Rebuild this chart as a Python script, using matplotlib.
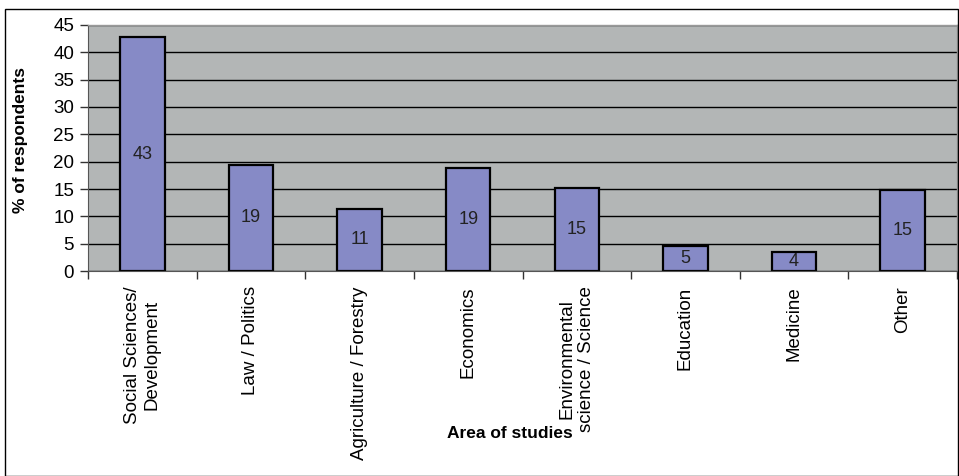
import numpy as np
import matplotlib
matplotlib.use("Agg")
import matplotlib.pyplot as plt
from matplotlib.patches import Rectangle

plt.rcParams['font.family'] = ['Liberation Sans', 'DejaVu Sans']

# Datos
categories = ['Social Sciences/\nDevelopment', 'Law / Politics', 'Agriculture / Forestry',
              'Economics', 'Environmental\nscience / Science', 'Education', 'Medicine', 'Other']
values = [42.8, 19.4, 11.4, 18.9, 15.2, 4.6, 3.5, 14.8]
labels = ['43', '19', '11', '19', '15', '5', '4', '15']
y_ticks = [0, 5, 10, 15, 20, 25, 30, 35, 40, 45]

W, H = 959, 476
fig = plt.figure(figsize=(W / 100, H / 100), dpi=100)
fig.patch.set_facecolor('white')

# Borde exterior
fig.patches.append(Rectangle((5 / W, 0.5 / H), (W - 6) / W, (H - 9) / H,
                             transform=fig.transFigure, fill=False,
                             edgecolor='black', linewidth=1))

ax = fig.add_axes([88 / W, 1 - 271 / H, (957 - 88) / W, (271 - 25) / H])
ax.set_facecolor('#b3b6b6')

x = np.arange(len(categories))
ax.set_axisbelow(True)
ax.yaxis.grid(True, color='black', linewidth=1)
bars = ax.bar(x, values, width=0.41, color='#868ac6', edgecolor='black', linewidth=1.6)

for b, lab in zip(bars, labels):
    ax.text(b.get_x() + b.get_width() / 2, b.get_height() / 2, lab,
            ha='center', va='center', fontsize=13, color='#222222')

ax.set_xlim(-0.5, len(categories) - 0.5)
ax.set_ylim(0, 45)
ax.set_yticks(y_ticks)
ax.tick_params(axis='y', labelsize=13.5, length=6, width=1, color='#333333', pad=4)

# Etiquetas en el centro, marcas entre categorías
ax.set_xticks(x)
ax.set_xticklabels(categories, rotation=90, fontsize=13.5, ha='center', va='top',
                   multialignment='center')
ax.tick_params(axis='x', which='major', length=0, pad=11)
ax.set_xticks(np.arange(len(categories) + 1) - 0.5, minor=True)
ax.tick_params(axis='x', which='minor', length=6, width=1, color='#333333')

for side in ['top', 'right']:
    ax.spines[side].set_color('#999999')
    ax.spines[side].set_linewidth(1)
ax.spines['left'].set_color('#555555')
ax.spines['bottom'].set_color('#555555')

fig.text(21 / W, 1 - 140 / H, '% of respondents', rotation=90, ha='center', va='center',
         fontsize=12.5, fontweight='bold')
fig.text(510 / W, 1 - 434 / H, 'Area of studies', ha='center', va='center',
         fontsize=12.5, fontweight='bold')

fig.savefig('out.png', dpi=100)
